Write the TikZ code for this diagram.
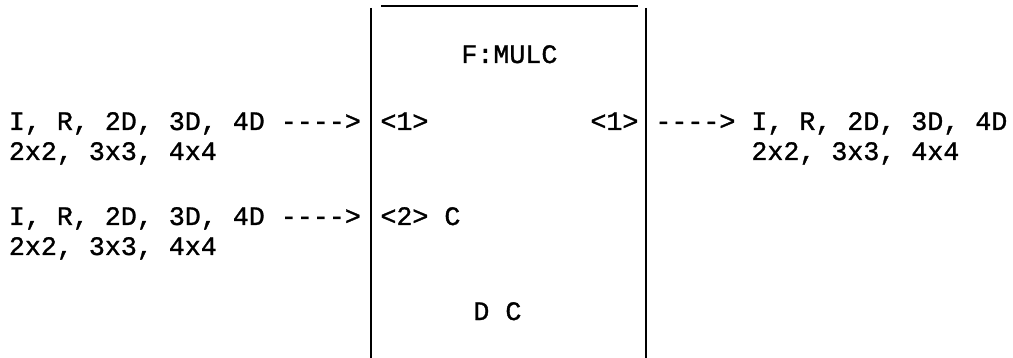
\documentclass[tikz,border=0pt]{standalone}
\usepackage{fontspec}
\setmonofont{Liberation Mono}[AutoFakeBold=1.2]

\begin{document}
\begin{tikzpicture}[x=0.5pt,y=-0.5pt,
  lbl/.style={anchor=base west, inner sep=0pt, font=\fontsize{13.33}{15}\selectfont\ttfamily\bfseries}]
\useasboundingbox (0,0) rectangle (1013,358);
% block outline
\draw[line width=0.8pt] (381,6) -- (638,6);
\draw[line width=1.1pt] (371,8) -- (371,358);
\draw[line width=1.1pt] (646,8) -- (646,358);
% block texts
\node[lbl] (fname) at (461,63) {F:MULC};
\node[lbl] (inone) at (380,130) {<1>};
\node[lbl] (intwo) at (380,225) {<2> C};
\node[lbl] (outone) at (590,130) {<1>};
\node[lbl] (dc) at (473,320) {D C};
% inputs
\node[lbl] (srca) at (8.5,130) {I, R, 2D, 3D, 4D ---->};
\node[lbl] (srcb) at (8.5,160) {2x2, 3x3, 4x4};
\node[lbl] (srcc) at (8.5,225) {I, R, 2D, 3D, 4D ---->};
\node[lbl] (srcd) at (8.5,255) {2x2, 3x3, 4x4};
% output
\node[lbl] (dsta) at (655,130) {----> I, R, 2D, 3D, 4D};
\node[lbl] (dstb) at (751,160) {2x2, 3x3, 4x4};
\end{tikzpicture}
\end{document}
